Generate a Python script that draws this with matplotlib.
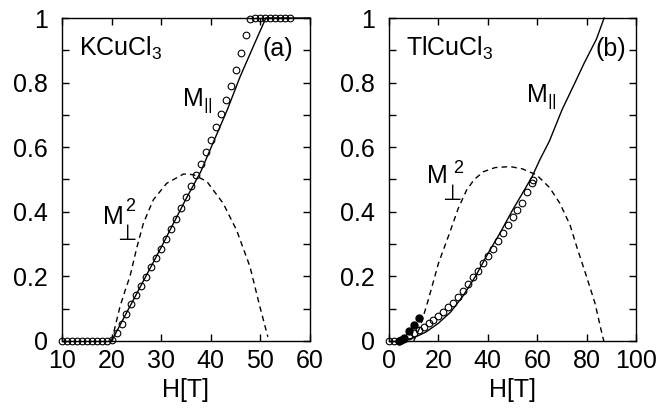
import numpy as np
import matplotlib
matplotlib.use("Agg")
import matplotlib.pyplot as plt

plt.rcParams['font.family'] = ['Liberation Sans', 'DejaVu Sans']
plt.rcParams['mathtext.fontset'] = 'custom'
plt.rcParams['mathtext.rm'] = 'Liberation Sans'
plt.rcParams['mathtext.it'] = 'Liberation Sans'
plt.rcParams['font.size'] = 18

# ---- panel (a): KCuCl3 ----
a_H_circ = [10, 11, 12, 13, 14, 15, 16, 17, 18, 19,
            20, 21, 22, 23, 24, 25, 26, 27, 28, 29, 30, 31, 32, 33, 34,
            35, 36, 37, 38, 39, 40, 41, 42, 43, 44, 45, 46, 47, 48,
            49, 50, 51, 52, 53, 54, 55, 56]
a_M_circ = [0, 0, 0, 0, 0, 0, 0, 0, 0, 0,
            0.004, 0.025, 0.054, 0.085, 0.114, 0.143, 0.170, 0.199, 0.228,
            0.257, 0.286, 0.315, 0.346, 0.379, 0.411, 0.446, 0.479, 0.515,
            0.549, 0.585, 0.623, 0.663, 0.704, 0.746, 0.791, 0.839, 0.891,
            0.948, 0.997, 1, 1, 1, 1, 1, 1, 1, 1]
a_H_par = [20, 25, 30, 35, 38, 40.5, 43.3, 45.9, 48.8, 51.1, 60]
a_M_par = [0, 0.145, 0.29, 0.44, 0.525, 0.615, 0.715, 0.818, 0.92, 1.0, 1.0]
a_H_perp = [20, 20.8, 21.7, 22.7, 23.7, 25.1, 26.4, 28.4, 31.1, 34.5, 36.5,
            39.2, 42.5, 45.2, 47.9, 49.9, 51.5]
a_M_perp = [0, 0.05, 0.107, 0.155, 0.2, 0.29, 0.364, 0.437, 0.488, 0.517,
            0.515, 0.494, 0.426, 0.343, 0.23, 0.106, 0.013]

# ---- panel (b): TlCuCl3 ----
b_H_open = [0, 2, 4, 6, 8, 10, 12, 14, 16, 18, 20, 22, 24, 26, 28, 30,
            32, 34, 36, 38, 40, 42, 44, 46, 48, 50, 52, 54, 56, 58, 58.4]
b_M_open = [0, 0, 0.001, 0.006, 0.015, 0.024, 0.033, 0.043, 0.055, 0.066,
            0.077, 0.09, 0.104, 0.119, 0.135, 0.155, 0.175, 0.197, 0.218,
            0.24, 0.262, 0.285, 0.31, 0.333, 0.36, 0.385, 0.405, 0.428,
            0.46, 0.488, 0.497]
b_H_fill = [4, 5, 6, 8, 10, 12]
b_M_fill = [0, 0.002, 0.008, 0.03, 0.05, 0.072]
b_H_par = [5, 10, 15, 20, 25, 30, 35, 40, 45, 50, 55, 58, 61, 65, 70, 75,
           79, 84, 87.1]
b_M_par = [0, 0.01, 0.028, 0.055, 0.09, 0.14, 0.2, 0.27, 0.335, 0.405,
           0.47, 0.51, 0.56, 0.62, 0.715, 0.795, 0.86, 0.935, 1.0]
b_H_perp = [10, 12.6, 15.9, 20, 24.7, 28, 31.4, 34.5, 38.2, 43, 49, 54,
            59.8, 65, 69.2, 73.3, 76, 80, 83.4, 86.5, 87]
b_M_perp = [0, 0.044, 0.127, 0.24, 0.338, 0.41, 0.467, 0.5, 0.524, 0.537,
            0.54, 0.533, 0.514, 0.475, 0.426, 0.359, 0.292, 0.199, 0.117,
            0.013, 0]

fig = plt.figure(figsize=(6.58, 4.16), dpi=100)
ax1 = fig.add_axes([62/658, 75/416, 248/658, 323/416])
ax2 = fig.add_axes([389/658, 75/416, 247/658, 323/416])

circ = dict(ls='none', marker='o', ms=4.8, mfc='none', mec='k', mew=0.8)

ax1.plot(a_H_par, a_M_par, 'k-', lw=1.0, clip_on=False)
ax1.plot(a_H_perp, a_M_perp, 'k-', lw=1.0, dashes=(4, 3))
ax1.plot(a_H_circ, a_M_circ, clip_on=False, **circ)

ax2.plot(b_H_par, b_M_par, 'k-', lw=1.0, clip_on=False)
ax2.plot(b_H_perp, b_M_perp, 'k-', lw=1.0, dashes=(4, 3))
ax2.plot(b_H_open, b_M_open, clip_on=False, **circ)
ax2.plot(b_H_fill, b_M_fill, ls='none', marker='o', ms=5, mfc='k',
         mec='k', clip_on=False)

ax1.set_xlim(10, 60)
ax1.set_xticks([10, 20, 30, 40, 50, 60])
ax2.set_xlim(0, 100)
ax2.set_xticks([0, 20, 40, 60, 80, 100])

for ax in (ax1, ax2):
    ax.set_ylim(0, 1)
    ax.set_yticks([0, 0.2, 0.4, 0.6, 0.8, 1])
    ax.set_yticklabels(['0', '0.2', '0.4', '0.6', '0.8', '1'])
    ax.set_yticks(np.arange(0.1, 1.0, 0.2), minor=True)
    ax.tick_params(which='both', direction='in', top=True, right=True,
                   length=5, width=1.0)
    ax.tick_params(axis='y', pad=10)
    ax.tick_params(axis='x', pad=6)
    for s in ax.spines.values():
        s.set_linewidth(1.0)
    ax.set_xlabel('H[T]', labelpad=3)

ax1.text(0.07, 0.905, 'KCuCl$_3$', transform=ax1.transAxes, va='center')
ax1.text(0.81, 0.905, '(a)', transform=ax1.transAxes, va='center')
ax1.text(0.485, 0.745, r'M$_{||}$', transform=ax1.transAxes, va='center')
ax1.text(0.165, 0.385, 'M', transform=ax1.transAxes, va='center')
ax1.text(0.255, 0.415, '2', transform=ax1.transAxes, va='center',
         fontsize=13)
ax1.text(0.262, 0.33, '\u22a5', transform=ax1.transAxes, va='center',
         ha='center', fontsize=16, family='DejaVu Sans')

ax2.text(0.07, 0.905, 'TlCuCl$_3$', transform=ax2.transAxes, va='center')
ax2.text(0.835, 0.905, '(b)', transform=ax2.transAxes, va='center')
ax2.text(0.555, 0.755, r'M$_{||}$', transform=ax2.transAxes, va='center')
ax2.text(0.155, 0.51, 'M', transform=ax2.transAxes, va='center')
ax2.text(0.26, 0.535, '2', transform=ax2.transAxes, va='center',
         fontsize=13)
ax2.text(0.255, 0.455, '\u22a5', transform=ax2.transAxes, va='center',
         ha='center', fontsize=16, family='DejaVu Sans')

fig.savefig('out.png', dpi=100)
